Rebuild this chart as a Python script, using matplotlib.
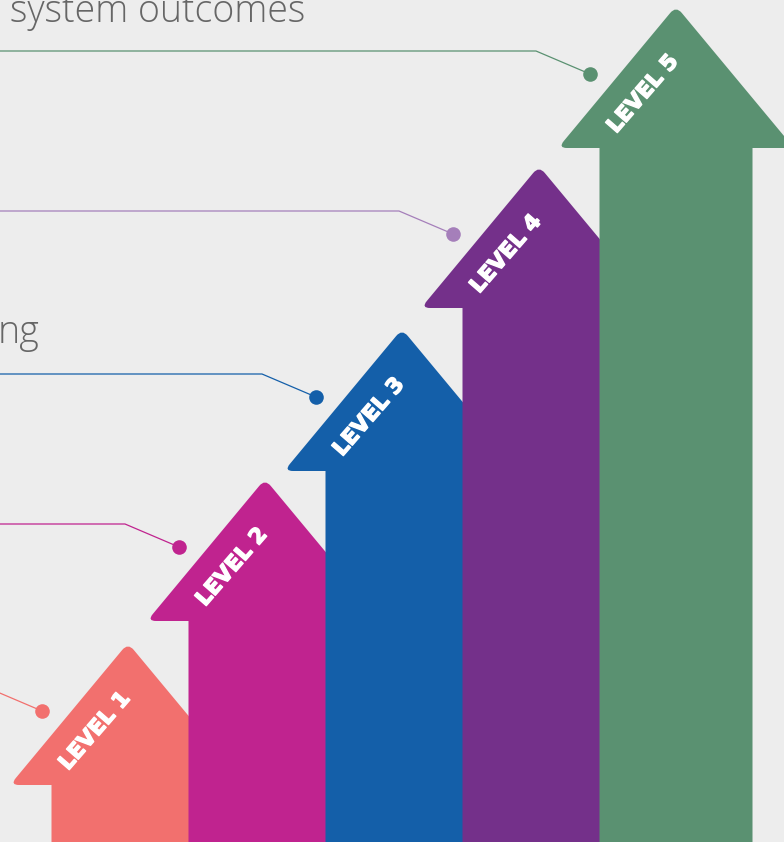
import matplotlib
matplotlib.use('Agg')
from matplotlib import pyplot as plt
from matplotlib.path import Path
from matplotlib.patches import PathPatch
import matplotlib.patheffects as pe
import numpy as np

# data: five levels, tip height of each arrow (px from the bottom)
levels = ['LEVEL 1', 'LEVEL 2', 'LEVEL 3', 'LEVEL 4', 'LEVEL 5']
tip_heights = [195, 359, 509, 672, 832]
colors = ['#F2706E', '#C0238F', '#145FA9', '#74308A', '#5A9171']
line_colors = ['#F2706E', '#C0238F', '#145FA9', '#A57FBA', '#5A9171']

bg = '#EDEDED'
W, H = 784, 842

fig = plt.figure(figsize=(W / 100, H / 100), dpi=100, facecolor=bg)
ax = fig.add_axes([0, 0, 1, 1])
ax.set_xlim(0, W)
ax.set_ylim(0, H)
ax.axis('off')
ax.set_facecolor(bg)

x0, step = 128, 137        # centre of first arrow, spacing
head_h, head_w, shaft_w = 138, 118, 76.5
r = 9                      # corner rounding
lift = 4                   # makes up for the rounded apex


def rounded_path(pts, round_idx, rad):
    # closed polygon, round the chosen corners with quadratic curves
    verts, codes = [], []
    n = len(pts)
    for i in range(n):
        p = np.array(pts[i], float)
        if i in round_idx:
            a = np.array(pts[i - 1], float)
            b = np.array(pts[(i + 1) % n], float)
            p1 = p + (a - p) / np.linalg.norm(a - p) * rad
            p2 = p + (b - p) / np.linalg.norm(b - p) * rad
            verts += [p1, p, p2]
            codes += [Path.LINETO, Path.CURVE3, Path.CURVE3]
        else:
            verts.append(p)
            codes.append(Path.LINETO)
    codes[0] = Path.MOVETO
    verts.append(verts[0])
    codes.append(Path.CLOSEPOLY)
    return Path(verts, codes)


for i, (lab, top, col, lcol) in enumerate(zip(levels, tip_heights, colors, line_colors)):
    cx = x0 + step * i
    base = top - head_h
    pts = [(cx, top + lift), (cx + head_w, base), (cx + shaft_w, base),
           (cx + shaft_w, -10), (cx - shaft_w, -10), (cx - shaft_w, base),
           (cx - head_w, base)]
    ax.add_patch(PathPatch(rounded_path(pts, [0, 1, 6], r), facecolor=col,
                           edgecolor='none', zorder=2 + i))

    # label along the left slope of the head
    ax.text(cx - 33, top - 84, lab, rotation=49, rotation_mode='anchor',
            ha='center', va='center', color='white', fontsize=15.5,
            fontweight='bold', family=['DejaVu Sans'], zorder=10,
            path_effects=[pe.withStroke(linewidth=1.0, foreground='white')])

    # callout line and dot
    dx, dy = cx - 86, top - 64
    ax.plot([-10, dx - 54, dx], [dy + 23, dy + 23, dy], color=lcol, lw=0.9,
            zorder=1, solid_capstyle='butt')
    ax.plot(dx, dy, 'o', color=lcol, ms=10.5, mec='none', zorder=11)

# text pieces of the left-hand descriptions
ax.text(10, H - 22, 'system outcomes', ha='left', va='baseline',
        fontsize=27, color='#666666', family=['Open Sans', 'DejaVu Sans'],
        fontweight='light')
ax.text(40, H - 343, 'ng', ha='right', va='baseline',
        fontsize=27, color='#666666', family=['Open Sans', 'DejaVu Sans'],
        fontweight='light')

plt.savefig('out.png', dpi=100, facecolor=bg)
